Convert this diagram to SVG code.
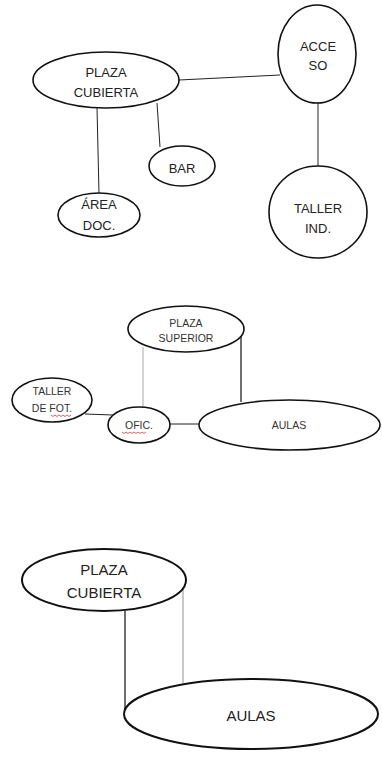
<svg xmlns="http://www.w3.org/2000/svg" width="382" height="765" viewBox="0 0 382 765">
<style>
  .n ellipse { fill: #fff; stroke: #111; stroke-width: 1.6; }
  .n2 ellipse { fill: #fff; stroke: #111; stroke-width: 2; }
  .t { font-family: "Liberation Sans", Arial, sans-serif; font-size: 13px; fill: #222; text-anchor: middle; }
  .tm { font-family: "Liberation Sans", Arial, sans-serif; font-size: 10.5px; fill: #333; text-anchor: middle; }
  .tb { font-family: "Liberation Sans", Arial, sans-serif; font-size: 15px; fill: #222; text-anchor: middle; }
  .c line { stroke: #222; stroke-width: 1; fill: none; }
  .c line.g { stroke: #aaa; }
  .sq { stroke: #d33; stroke-width: 0.8; fill: none; }
</style>
<rect width="382" height="765" fill="#fff"/>
<g class="c" id="connectors">
  <line x1="179" y1="80" x2="280" y2="75"/>
  <line x1="318" y1="103" x2="318" y2="167"/>
  <line x1="157" y1="103" x2="160" y2="147"/>
  <line x1="97" y1="107" x2="99" y2="194"/>
  <line x1="85" y1="414" x2="113" y2="415"/>
  <line x1="170" y1="424" x2="200" y2="424"/>
  <line class="g" x1="143" y1="347" x2="143" y2="407"/>
  <line x1="241" y1="329" x2="241" y2="402" style="stroke-width:1.3"/>
  <line x1="125" y1="611" x2="125" y2="713" style="stroke-width:1.3"/>
  <line class="g" x1="183" y1="588" x2="183" y2="683" style="stroke-width:1.3"/>
</g>
<g class="n" id="plaza-cubierta-1">
  <ellipse cx="106" cy="80" rx="73" ry="28"/>
  <text class="t" x="106" y="77">PLAZA</text>
  <text class="t" x="106" y="97">CUBIERTA</text>
</g>
<g class="n" id="acceso">
  <ellipse cx="317" cy="54" rx="39" ry="49"/>
  <text class="t" x="318" y="51">ACCE</text>
  <text class="t" x="318" y="70">SO</text>
</g>
<g class="n" id="taller-ind">
  <ellipse cx="318" cy="212" rx="49" ry="46"/>
  <text class="t" x="318" y="213">TALLER</text>
  <text class="t" x="318" y="233">IND.</text>
</g>
<g class="n" id="bar">
  <ellipse cx="182" cy="166" rx="33" ry="20"/>
  <text class="t" x="182" y="173">BAR</text>
</g>
<g class="n" id="area-doc">
  <ellipse cx="99" cy="215" rx="41" ry="22"/>
  <text class="t" x="99" y="209">ÁREA</text>
  <text class="t" x="99" y="230">DOC.</text>
</g>
<g class="n" id="plaza-superior">
  <ellipse cx="186" cy="329" rx="58" ry="23"/>
  <text class="tm" x="186" y="327">PLAZA</text>
  <text class="tm" x="186" y="342">SUPERIOR</text>
</g>
<g class="n" id="taller-fot">
  <ellipse cx="52" cy="400" rx="40" ry="22"/>
  <text class="tm" x="52" y="395">TALLER</text>
  <text class="tm" x="52" y="412">DE FOT.</text>
  <path class="sq" d="M51 415 l2 1.5 l2 -1.5 l2 1.5 l2 -1.5 l2 1.5 l2 -1.5 l2 1.5 l2 -1.5 l2 1.5 l2 -1.5"/>
</g>
<g class="n" id="ofic">
  <ellipse cx="139" cy="425" rx="31" ry="18"/>
  <text class="tm" x="139" y="429">OFIC.</text>
  <path class="sq" d="M122 432 l2 1.5 l2 -1.5 l2 1.5 l2 -1.5 l2 1.5 l2 -1.5 l2 1.5 l2 -1.5 l2 1.5 l2 -1.5 l2 1.5 l2 -1.5"/>
</g>
<g class="n" id="aulas-1">
  <ellipse cx="289.5" cy="425" rx="90.5" ry="25"/>
  <text class="tm" x="289" y="429">AULAS</text>
</g>
<g class="n2" id="plaza-cubierta-2">
  <ellipse cx="104" cy="580" rx="82" ry="31"/>
  <text class="tb" x="104" y="575">PLAZA</text>
  <text class="tb" x="104" y="598">CUBIERTA</text>
</g>
<g class="n2" id="aulas-2">
  <ellipse cx="251" cy="714" rx="127" ry="35"/>
  <text class="tb" x="251" y="721">AULAS</text>
</g>
</svg>
